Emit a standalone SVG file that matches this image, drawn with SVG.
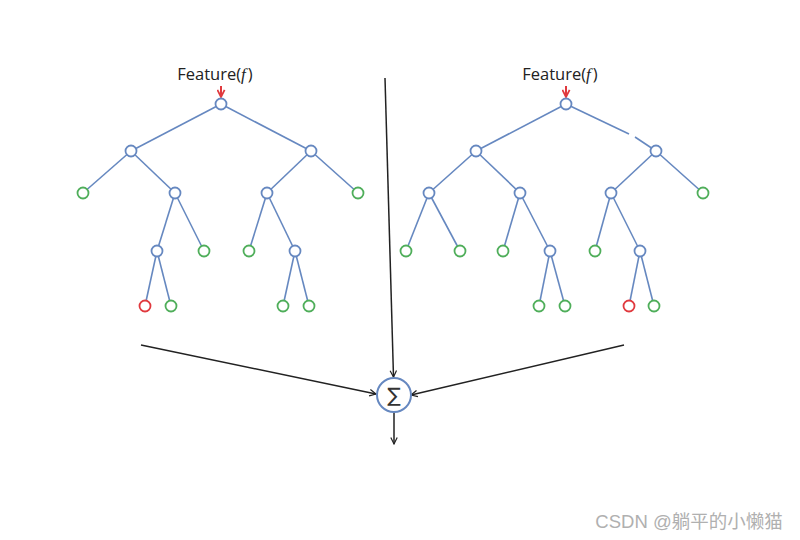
<svg xmlns="http://www.w3.org/2000/svg" width="800" height="540" viewBox="0 0 800 540">
<style>
.e{stroke:#6688c0;stroke-width:1.6;fill:none}
.n{fill:#fff;stroke:#6688c0;stroke-width:1.8}
.g{fill:#fff;stroke:#4fae5a;stroke-width:1.8}
.r{fill:#fff;stroke:#e0393e;stroke-width:1.8}
.c{stroke:#222;stroke-width:1.5;fill:none}
.t{font-family:"Open Sans","Noto Sans",sans-serif;font-size:16.5px;fill:#222}
</style>
<defs>
<marker id="ah" viewBox="0 0 10 10" refX="9" refY="5" markerWidth="8" markerHeight="8" orient="auto" markerUnits="userSpaceOnUse">
<path d="M1,1 L9,5 L1,9" fill="none" stroke="#222" stroke-width="1.5"/>
</marker>
<marker id="rh" viewBox="0 0 10 10" refX="9" refY="5" markerWidth="9" markerHeight="9" orient="auto" markerUnits="userSpaceOnUse">
<path d="M1,1 L9,5 L1,9" fill="none" stroke="#e0393e" stroke-width="2"/>
</marker>
</defs>
<rect width="800" height="540" fill="#fff"/>

<g id="connectors">
<g class="e">
<line x1="221" y1="104" x2="131" y2="151"/>
<line x1="221" y1="104" x2="311" y2="151"/>
<line x1="131" y1="151" x2="83" y2="193"/>
<line x1="131" y1="151" x2="175" y2="193"/>
<line x1="311" y1="151" x2="267" y2="193"/>
<line x1="311" y1="151" x2="358" y2="193"/>
<line x1="175" y1="193" x2="157" y2="251"/>
<line x1="175" y1="193" x2="204" y2="251"/>
<line x1="267" y1="193" x2="249" y2="251"/>
<line x1="267" y1="193" x2="295" y2="251"/>
<line x1="157" y1="251" x2="145" y2="306"/>
<line x1="157" y1="251" x2="171" y2="306"/>
<line x1="295" y1="251" x2="283" y2="306"/>
<line x1="295" y1="251" x2="309" y2="306"/>
</g>
<g class="e">
<line x1="566" y1="104" x2="476" y2="151"/>
<line x1="566" y1="104" x2="629" y2="134"/>
<line x1="635" y1="137" x2="656" y2="151"/>
<line x1="476" y1="151" x2="429" y2="193"/>
<line x1="476" y1="151" x2="520" y2="193"/>
<line x1="656" y1="151" x2="611" y2="193"/>
<line x1="656" y1="151" x2="703" y2="193"/>
<line x1="429" y1="193" x2="406" y2="251"/>
<line x1="429" y1="193" x2="460" y2="251"/>
<line x1="520" y1="193" x2="503" y2="251"/>
<line x1="520" y1="193" x2="550" y2="251"/>
<line x1="611" y1="193" x2="595" y2="251"/>
<line x1="611" y1="193" x2="640" y2="251"/>
<line x1="550" y1="251" x2="539" y2="306"/>
<line x1="550" y1="251" x2="565" y2="306"/>
<line x1="640" y1="251" x2="629" y2="306"/>
<line x1="640" y1="251" x2="654" y2="306"/>
</g>
<line x1="221" y1="86" x2="221" y2="97" stroke="#e0393e" stroke-width="2" marker-end="url(#rh)"/>
<line x1="566" y1="86" x2="566" y2="97" stroke="#e0393e" stroke-width="2" marker-end="url(#rh)"/>
<line class="c" x1="385" y1="78" x2="393.5" y2="377" marker-end="url(#ah)"/>
<line class="c" x1="141" y1="345" x2="376" y2="394" marker-end="url(#ah)"/>
<line class="c" x1="624" y1="345" x2="411" y2="395" marker-end="url(#ah)"/>
<line class="c" x1="394" y1="412" x2="394" y2="444" marker-end="url(#ah)"/>
</g>

<g id="left-tree">
<text class="t" x="215" y="80" text-anchor="middle">Feature(<tspan font-style="italic" font-family="'Liberation Serif',serif" font-size="17">f</tspan><tspan dx="2">)</tspan></text>
<circle class="n" cx="221" cy="104" r="5.5"/>
<circle class="n" cx="131" cy="151" r="5.5"/>
<circle class="n" cx="311" cy="151" r="5.5"/>
<circle class="g" cx="83" cy="193" r="5.5"/>
<circle class="n" cx="175" cy="193" r="5.5"/>
<circle class="n" cx="267" cy="193" r="5.5"/>
<circle class="g" cx="358" cy="193" r="5.5"/>
<circle class="n" cx="157" cy="251" r="5.5"/>
<circle class="g" cx="204" cy="251" r="5.5"/>
<circle class="g" cx="249" cy="251" r="5.5"/>
<circle class="n" cx="295" cy="251" r="5.5"/>
<circle class="r" cx="145" cy="306" r="5.5"/>
<circle class="g" cx="171" cy="306" r="5.5"/>
<circle class="g" cx="283" cy="306" r="5.5"/>
<circle class="g" cx="309" cy="306" r="5.5"/>
</g>

<g id="right-tree">
<text class="t" x="560" y="80" text-anchor="middle">Feature(<tspan font-style="italic" font-family="'Liberation Serif',serif" font-size="17">f</tspan><tspan dx="2">)</tspan></text>
<circle class="n" cx="566" cy="104" r="5.5"/>
<circle class="n" cx="476" cy="151" r="5.5"/>
<circle class="n" cx="656" cy="151" r="5.5"/>
<circle class="n" cx="429" cy="193" r="5.5"/>
<circle class="n" cx="520" cy="193" r="5.5"/>
<circle class="n" cx="611" cy="193" r="5.5"/>
<circle class="g" cx="703" cy="193" r="5.5"/>
<circle class="g" cx="406" cy="251" r="5.5"/>
<circle class="g" cx="460" cy="251" r="5.5"/>
<circle class="g" cx="503" cy="251" r="5.5"/>
<circle class="n" cx="550" cy="251" r="5.5"/>
<circle class="g" cx="595" cy="251" r="5.5"/>
<circle class="n" cx="640" cy="251" r="5.5"/>
<circle class="g" cx="539" cy="306" r="5.5"/>
<circle class="g" cx="565" cy="306" r="5.5"/>
<circle class="r" cx="629" cy="306" r="5.5"/>
<circle class="g" cx="654" cy="306" r="5.5"/>
</g>

<g id="sum">
<circle cx="394" cy="395" r="17" fill="#fff" stroke="#6688c0" stroke-width="2"/>
<text x="394" y="402" text-anchor="middle" font-family="'DejaVu Sans',sans-serif" font-size="20" fill="#333">∑</text>
</g>

<text x="689" y="528" text-anchor="middle" font-family="'Liberation Sans','Noto Sans CJK SC',sans-serif" font-size="18.5" fill="#b0b0b0">CSDN @躺平的小懒猫</text>
</svg>
